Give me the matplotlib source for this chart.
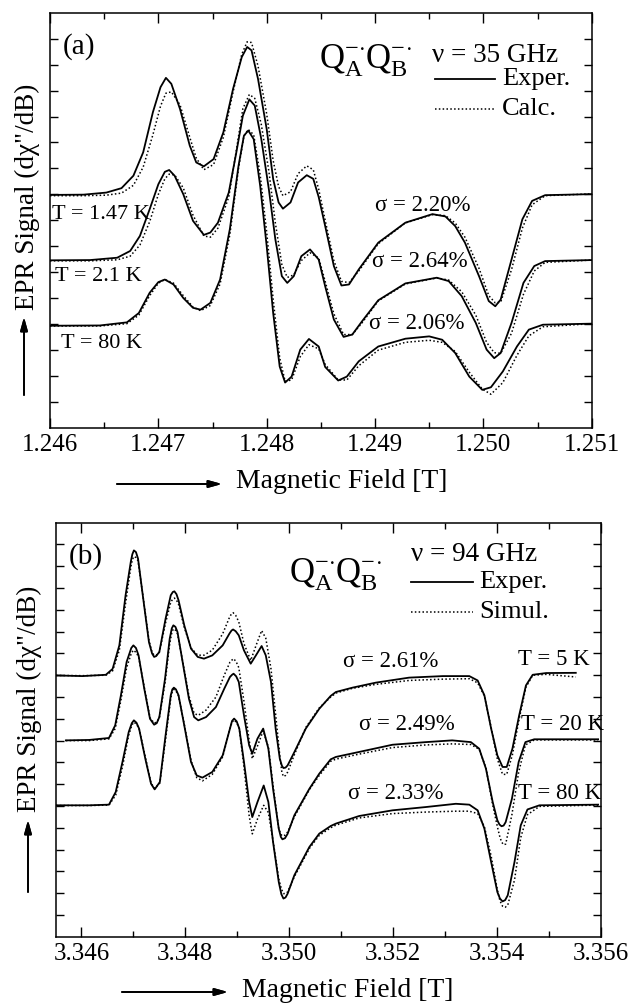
import numpy as np
import matplotlib
matplotlib.use("Agg")
import matplotlib.pyplot as plt
from matplotlib.ticker import MultipleLocator, FormatStrFormatter

plt.rcParams["font.family"] = ["Liberation Serif", "DejaVu Serif"]
plt.rcParams["mathtext.fontset"] = "custom"
plt.rcParams["mathtext.rm"] = "Liberation Serif"
plt.rcParams["mathtext.it"] = "Liberation Serif:italic"

# ---- panel (a): 35 GHz, field in T, signal in tick units ----
field_a1 = [1.24600, 1.24631, 1.24652, 1.24666, 1.24677, 1.24686, 1.24695, 1.24702, 1.24707, 1.24712,
            1.24720, 1.24729, 1.24735, 1.24742, 1.24751, 1.24760, 1.24769, 1.24777, 1.24782, 1.24786,
            1.24792, 1.24800, 1.24806, 1.24811, 1.24815, 1.24822, 1.24829, 1.24837, 1.24843, 1.24848,
            1.24854, 1.24862, 1.24869, 1.24876, 1.24885, 1.24903, 1.24928, 1.24953, 1.24965, 1.24974,
            1.24983, 1.24996, 1.25005, 1.25011, 1.25016, 1.25026, 1.25036, 1.25045, 1.25057, 1.25100]
exp_a1 = [8.98, 8.99, 9.07, 9.24, 9.72, 10.62, 12.17, 13.13, 13.49, 13.26,
          12.29, 10.88, 10.23, 10.08, 10.36, 11.39, 13.07, 14.29, 14.68, 14.55,
          13.45, 11.52, 9.59, 8.69, 8.45, 8.69, 9.46, 9.74, 9.60, 8.90,
          7.78, 6.24, 5.49, 5.53, 6.11, 7.14, 7.91, 8.24, 8.15, 7.78,
          7.14, 5.85, 4.89, 4.69, 4.95, 6.49, 8.04, 8.75, 8.97, 9.01]
sim_a1 = [8.95, 8.95, 8.97, 9.05, 9.35, 10.05, 11.30, 12.40, 12.90, 12.95,
          12.45, 11.20, 10.40, 9.95, 10.15, 11.20, 12.95, 14.40, 14.88, 14.85,
          13.95, 12.10, 10.30, 9.30, 8.95, 9.10, 9.80, 10.10, 9.95, 9.20,
          8.00, 6.45, 5.65, 5.60, 6.05, 7.10, 7.90, 8.22, 8.18, 7.90,
          7.35, 6.15, 5.10, 4.82, 4.85, 6.10, 7.70, 8.60, 8.95, 9.02]

field_a2 = [1.24600, 1.24637, 1.24662, 1.24674, 1.24683, 1.24692, 1.24700, 1.24706, 1.24710, 1.24715,
            1.24723, 1.24732, 1.24742, 1.24748, 1.24755, 1.24765, 1.24772, 1.24778, 1.24784, 1.24789,
            1.24795, 1.24802, 1.24808, 1.24814, 1.24819, 1.24825, 1.24832, 1.24840, 1.24848, 1.24854,
            1.24862, 1.24871, 1.24879, 1.24888, 1.24903, 1.24928, 1.24957, 1.24968, 1.24980, 1.24993,
            1.25003, 1.25010, 1.25016, 1.25026, 1.25037, 1.25047, 1.25057, 1.25100]
exp_a2 = [6.46, 6.47, 6.56, 6.82, 7.40, 8.43, 9.39, 9.87, 9.94, 9.72,
          9.01, 7.98, 7.44, 7.53, 7.91, 9.07, 10.62, 12.03, 12.66, 12.42,
          11.14, 9.20, 7.27, 5.85, 5.59, 5.85, 6.62, 6.88, 6.49, 5.46,
          4.18, 3.51, 3.60, 4.11, 4.92, 5.57, 5.79, 5.66, 5.08, 4.05,
          3.02, 2.69, 2.89, 4.05, 5.59, 6.24, 6.43, 6.47]
sim_a2 = [6.44, 6.44, 6.48, 6.62, 7.05, 7.95, 9.00, 9.60, 9.78, 9.75,
          9.25, 8.20, 7.40, 7.35, 7.70, 8.90, 10.70, 12.30, 12.85, 12.70,
          11.70, 9.90, 7.90, 6.30, 5.80, 5.90, 6.45, 6.75, 6.55, 5.65,
          4.40, 3.60, 3.60, 4.05, 4.90, 5.55, 5.78, 5.70, 5.25, 4.35,
          3.30, 2.90, 2.88, 3.65, 5.15, 6.05, 6.38, 6.47]

field_a3 = [1.24600, 1.24646, 1.24671, 1.24682, 1.24692, 1.24700, 1.24706, 1.24714, 1.24723, 1.24732,
            1.24739, 1.24748, 1.24757, 1.24766, 1.24774, 1.24779, 1.24783, 1.24788, 1.24794, 1.24800,
            1.24806, 1.24812, 1.24817, 1.24823, 1.24831, 1.24839, 1.24848, 1.24854, 1.24866, 1.24874,
            1.24885, 1.24903, 1.24928, 1.24950, 1.24962, 1.24974, 1.24987, 1.24999, 1.25007, 1.25018,
            1.25031, 1.25042, 1.25055, 1.25100]
exp_a3 = [3.94, 3.95, 4.07, 4.43, 5.21, 5.62, 5.72, 5.53, 5.01, 4.63,
          4.56, 4.82, 5.72, 7.66, 10.10, 11.26, 11.46, 11.13, 9.33, 7.01,
          4.43, 2.37, 1.75, 1.98, 3.02, 3.43, 3.14, 2.35, 1.83, 1.98,
          2.57, 3.14, 3.44, 3.53, 3.40, 2.89, 1.98, 1.47, 1.57, 2.18,
          3.14, 3.79, 3.98, 4.02]
sim_a3 = [3.93, 3.93, 4.02, 4.35, 5.10, 5.58, 5.72, 5.58, 5.10, 4.66,
          4.52, 4.72, 5.55, 7.45, 10.00, 11.25, 11.50, 11.30, 9.75, 7.55,
          4.95, 2.70, 1.80, 1.85, 2.75, 3.21, 3.05, 2.45, 1.85, 1.85,
          2.40, 3.00, 3.30, 3.38, 3.30, 2.95, 2.15, 1.50, 1.30, 1.75,
          2.80, 3.55, 3.90, 4.02]

# ---- panel (b): 94 GHz ----
field_b1 = [3.34551, 3.34602, 3.34647, 3.34660, 3.34673, 3.34685, 3.34695, 3.34698, 3.34701, 3.34705,
            3.34709, 3.34719, 3.34730, 3.34736, 3.34740, 3.34744, 3.34750, 3.34762, 3.34772, 3.34776,
            3.34779, 3.34783, 3.34787, 3.34798, 3.34811, 3.34824, 3.34836, 3.34852, 3.34872, 3.34885,
            3.34889, 3.34892, 3.34897, 3.34903, 3.34913, 3.34926, 3.34936, 3.34947, 3.34955, 3.34965,
            3.34974, 3.34982, 3.34986, 3.34989, 3.34993, 3.34997, 3.35010, 3.35032, 3.35058, 3.35080,
            3.35090, 3.35122, 3.35167, 3.35231, 3.35296, 3.35347, 3.35363, 3.35376, 3.35389, 3.35401,
            3.35411, 3.35419, 3.35430, 3.35443, 3.35456, 3.35469, 3.35495, 3.35552]
exp_b1 = [11.99, 11.96, 12.02, 12.29, 13.37, 15.67, 17.20, 17.55, 17.73, 17.65,
          17.35, 15.51, 13.52, 13.00, 12.84, 12.88, 13.07, 14.59, 15.67, 15.82,
          15.85, 15.72, 15.44, 14.29, 13.22, 12.84, 12.76, 12.91, 13.37, 13.91,
          14.05, 14.10, 14.02, 13.83, 13.14, 12.53, 12.91, 13.34, 12.91, 11.69,
          9.55, 8.17, 7.85, 7.74, 7.76, 7.86, 8.47, 9.55, 10.46, 11.05,
          11.23, 11.43, 11.66, 11.89, 11.96, 11.96, 11.76, 11.08, 9.55, 8.32,
          7.79, 7.79, 8.63, 10.16, 11.53, 12.02, 12.10, 12.11]
sim_b1 = [11.99, 11.98, 12.00, 12.20, 13.15, 15.30, 16.95, 17.30, 17.45, 17.40,
          17.25, 15.55, 13.60, 13.05, 12.92, 12.92, 13.05, 14.40, 15.35, 15.50,
          15.54, 15.45, 15.25, 14.20, 13.25, 12.92, 12.92, 13.15, 13.90, 14.65,
          14.82, 14.87, 14.75, 14.45, 13.45, 12.68, 13.35, 14.05, 13.70, 12.30,
          10.20, 8.30, 7.55, 7.35, 7.40, 7.55, 8.35, 9.60, 10.50, 11.00,
          11.18, 11.40, 11.58, 11.76, 11.82, 11.84, 11.65, 11.05, 9.60, 8.15,
          7.45, 7.45, 8.35, 10.00, 11.45, 12.00, 12.04, 11.92]

field_b2 = [3.34570, 3.34615, 3.34653, 3.34665, 3.34676, 3.34687, 3.34696, 3.34700, 3.34705, 3.34710,
            3.34721, 3.34732, 3.34740, 3.34745, 3.34750, 3.34761, 3.34770, 3.34774, 3.34777, 3.34781,
            3.34785, 3.34796, 3.34807, 3.34817, 3.34825, 3.34840, 3.34859, 3.34875, 3.34886, 3.34890,
            3.34893, 3.34898, 3.34903, 3.34913, 3.34923, 3.34929, 3.34939, 3.34950, 3.34960, 3.34969,
            3.34980, 3.34984, 3.34987, 3.34992, 3.34997, 3.35010, 3.35039, 3.35058, 3.35080, 3.35090,
            3.35135, 3.35199, 3.35263, 3.35314, 3.35350, 3.35366, 3.35379, 3.35392, 3.35401, 3.35405,
            3.35409, 3.35413, 3.35417, 3.35429, 3.35442, 3.35455, 3.35472, 3.35595]
exp_b2 = [9.01, 9.03, 9.12, 9.70, 11.08, 12.61, 13.25, 13.37, 13.25, 12.91,
          11.38, 10.00, 9.73, 9.80, 10.08, 11.84, 13.68, 14.15, 14.29, 14.22,
          13.98, 12.45, 10.92, 10.08, 9.93, 10.08, 10.54, 11.38, 11.92, 12.02,
          12.07, 11.95, 11.69, 10.16, 8.78, 8.40, 9.09, 9.55, 8.63, 6.79,
          4.96, 4.58, 4.47, 4.52, 4.72, 5.57, 6.79, 7.48, 8.14, 8.25,
          8.48, 8.81, 8.93, 9.01, 8.93, 8.63, 7.71, 6.18, 5.34, 5.15,
          5.07, 5.10, 5.26, 6.33, 8.02, 8.93, 9.06, 9.06]
sim_b2 = [9.00, 9.00, 9.08, 9.55, 10.85, 12.35, 13.00, 13.15, 13.05, 12.85,
          11.45, 10.05, 9.80, 9.85, 10.05, 11.65, 13.45, 13.95, 14.13, 14.07,
          13.90, 12.50, 11.05, 10.25, 10.16, 10.40, 11.00, 12.00, 12.60, 12.70,
          12.76, 12.62, 12.35, 10.80, 9.00, 8.17, 8.75, 9.45, 8.70, 6.95,
          4.95, 4.70, 4.62, 4.66, 4.80, 5.50, 6.75, 7.40, 8.05, 8.15,
          8.38, 8.68, 8.80, 8.85, 8.82, 8.60, 7.75, 6.05, 5.05, 4.65,
          4.35, 4.22, 4.25, 5.60, 7.55, 8.80, 9.03, 9.03]

field_b3 = [3.34551, 3.34615, 3.34653, 3.34666, 3.34679, 3.34691, 3.34697, 3.34701, 3.34706, 3.34711,
            3.34723, 3.34734, 3.34741, 3.34751, 3.34762, 3.34772, 3.34775, 3.34778, 3.34782, 3.34787,
            3.34798, 3.34811, 3.34822, 3.34833, 3.34852, 3.34872, 3.34886, 3.34890, 3.34894, 3.34899,
            3.34904, 3.34913, 3.34923, 3.34929, 3.34939, 3.34951, 3.34960, 3.34969, 3.34980, 3.34985,
            3.34989, 3.34993, 3.34997, 3.35010, 3.35039, 3.35058, 3.35080, 3.35090, 3.35135, 3.35199,
            3.35263, 3.35321, 3.35347, 3.35363, 3.35376, 3.35389, 3.35401, 3.35406, 3.35411, 3.35416,
            3.35421, 3.35434, 3.35446, 3.35459, 3.35482, 3.35595]
exp_b3 = [6.03, 6.03, 6.06, 6.64, 8.02, 9.39, 9.80, 9.93, 9.82, 9.55,
          8.17, 7.02, 6.76, 7.10, 9.24, 11.08, 11.35, 11.43, 11.35, 11.08,
          9.70, 8.02, 7.40, 7.30, 7.56, 8.32, 9.55, 9.90, 10.01, 9.88,
          9.55, 8.02, 6.18, 5.49, 6.18, 6.94, 6.18, 4.35, 2.51, 1.95,
          1.75, 1.80, 1.97, 2.82, 4.12, 4.73, 5.08, 5.19, 5.54, 5.80,
          5.95, 6.10, 6.06, 5.80, 4.96, 3.43, 2.05, 1.75, 1.62, 1.68,
          1.90, 3.43, 5.11, 5.84, 6.03, 6.06]
sim_b3 = [6.02, 6.02, 6.04, 6.50, 7.80, 9.25, 9.70, 9.85, 9.75, 9.55,
          8.25, 7.05, 6.80, 7.05, 9.05, 10.95, 11.25, 11.35, 11.28, 11.05,
          9.75, 8.10, 7.30, 7.15, 7.45, 8.25, 9.55, 9.85, 9.95, 9.82,
          9.55, 7.80, 5.55, 4.72, 5.40, 6.03, 5.70, 4.40, 2.65, 2.20,
          1.98, 1.98, 2.05, 2.75, 4.05, 4.65, 5.00, 5.12, 5.45, 5.65,
          5.72, 5.76, 5.76, 5.65, 5.05, 3.70, 2.15, 1.65, 1.40, 1.35,
          1.45, 2.60, 4.55, 5.60, 5.98, 6.04]

sigma_a = ["σ = 2.20%", "σ = 2.64%", "σ = 2.06%"]
temps_a = ["T = 1.47 K", "T = 2.1 K", "T = 80 K"]
sigma_b = ["σ = 2.61%", "σ = 2.49%", "σ = 2.33%"]
temps_b = ["T = 5 K", "T = 20 K", "T = 80 K"]
ticks_a = [1.246, 1.247, 1.248, 1.249, 1.250, 1.251]
ticks_b = [3.346, 3.348, 3.350, 3.352, 3.354, 3.356]

W, H = 638, 1005
fig = plt.figure(figsize=(W / 100, H / 100), dpi=100)


def fx(px):
    return px / W


def fy(py):
    return 1 - py / H


def style_axes(ax, xticks, minor, ntick):
    ax.set_xticks(xticks)
    ax.xaxis.set_major_formatter(FormatStrFormatter("%.3f"))
    ax.xaxis.set_minor_locator(MultipleLocator(minor))
    ax.set_yticks(range(1, ntick))
    ax.set_yticklabels([])
    ax.tick_params(which="both", direction="in", top=True, right=True, width=1.0)
    ax.tick_params(which="major", axis="x", length=7, labelsize=18, pad=4.5)
    ax.tick_params(which="minor", axis="x", length=4)
    ax.tick_params(axis="y", length=6)
    for s in ax.spines.values():
        s.set_linewidth(1.1)


solid = dict(color="black", lw=1.3, solid_joinstyle="round")
dotted = dict(color="black", lw=1.1, ls=(0, (1, 1.5)))
qlabel = r"$\mathrm{Q}_{\mathrm{A}}^{-\!\cdot}\!\mathrm{Q}_{\mathrm{B}}^{-\!\cdot}$"

# panel (a)
ax1 = fig.add_axes([fx(50), fy(428), fx(591.7 - 50), (428 - 12.7) / H])
for f, e, s in [(field_a1, exp_a1, sim_a1), (field_a2, exp_a2, sim_a2), (field_a3, exp_a3, sim_a3)]:
    ax1.plot(f, s, **dotted)
    ax1.plot(f, e, **solid)
ax1.set_xlim(1.246, 1.251)
ax1.set_ylim(0, 16)
style_axes(ax1, ticks_a, 0.0005, 16)

ax1.text(1.24612, 14.68, "(a)", fontsize=21, ha="left", va="center")
ax1.text(1.24848, 13.84, qlabel, fontsize=25, ha="left", va="baseline")
ax1.text(1.24953, 14.37, "ν = 35 GHz", fontsize=19.5, ha="left", va="center")
ax1.plot([1.249554, 1.250107], [13.44, 13.44], **solid)
ax1.text(1.250172, 13.44, "Exper.", fontsize=19, ha="left", va="center")
ax1.plot([1.249554, 1.250107], [12.29, 12.29], **dotted)
ax1.text(1.250172, 12.29, "Calc.", fontsize=19, ha="left", va="center")
for (sx, sy), lab in zip([(1.249443, 8.59), (1.249415, 6.43), (1.249387, 4.04)], sigma_a):
    ax1.text(sx, sy, lab, fontsize=16.5, ha="center", va="center")
for (tx, ty), lab in zip([(1.246018, 8.24), (1.246046, 5.82), (1.246102, 3.24)], temps_a):
    ax1.text(tx, ty, lab, fontsize=16, ha="left", va="center")

# panel (b)
ax2 = fig.add_axes([fx(56), fy(936.7), fx(600.7 - 56), (936.7 - 522.7) / H])
for f, e, s in [(field_b1, exp_b1, sim_b1), (field_b2, exp_b2, sim_b2), (field_b3, exp_b3, sim_b3)]:
    ax2.plot(f, s, **dotted)
    ax2.plot(f, e, **solid)
ax2.set_xlim(3.34551, 3.35598)
ax2.set_ylim(0, 19)
style_axes(ax2, ticks_b, 0.001, 19)

ax2.text(3.345755, 17.43, "(b)", fontsize=21, ha="left", va="center")
ax2.text(3.349994, 16.24, qlabel, fontsize=25, ha="left", va="baseline")
ax2.text(3.352345, 17.52, "ν = 94 GHz", fontsize=19.5, ha="left", va="center")
ax2.plot([3.352345, 3.353540], [16.28, 16.28], **solid)
ax2.text(3.353655, 16.28, "Exper.", fontsize=19, ha="left", va="center")
ax2.plot([3.352345, 3.353540], [14.90, 14.90], **dotted)
ax2.text(3.353655, 14.90, "Simul.", fontsize=19, ha="left", va="center")
for (sx, sy), lab in zip([(3.351959, 12.61), (3.352271, 9.76), (3.352059, 6.55)], sigma_b):
    ax2.text(sx, sy, lab, fontsize=16.5, ha="center", va="center")
for (tx, ty), lab in zip([(3.354416, 12.70), (3.354474, 9.76), (3.354416, 6.55)], temps_b):
    ax2.text(tx, ty, lab, fontsize=16.5, ha="left", va="center")

# axis labels with arrows, placed in figure pixels
arrow = dict(arrowstyle="-|>,head_length=0.8,head_width=0.22", color="black", lw=1.3,
             shrinkA=0, shrinkB=0)
ylab = 'EPR Signal (dχ"/dB)'
fig.text(fx(27), fy(197), ylab, fontsize=19.5, rotation=90, ha="center", va="center")
fig.text(fx(29), fy(699), ylab, fontsize=19.5, rotation=90, ha="center", va="center")
fig.add_artist(plt.annotate("", xy=(fx(24), fy(317)), xytext=(fx(24), fy(395)),
                            xycoords="figure fraction", arrowprops=arrow))
fig.add_artist(plt.annotate("", xy=(fx(28), fy(820)), xytext=(fx(28), fy(892)),
                            xycoords="figure fraction", arrowprops=arrow))
fig.text(fx(236), fy(482), "Magnetic Field [T]", fontsize=20, ha="left", va="center")
fig.text(fx(242), fy(990), "Magnetic Field [T]", fontsize=20, ha="left", va="center")
fig.add_artist(plt.annotate("", xy=(fx(222), fy(484)), xytext=(fx(117), fy(484)),
                            xycoords="figure fraction", arrowprops=arrow))
fig.add_artist(plt.annotate("", xy=(fx(228), fy(992)), xytext=(fx(122), fy(992)),
                            xycoords="figure fraction", arrowprops=arrow))

fig.savefig("out.png", dpi=100)
